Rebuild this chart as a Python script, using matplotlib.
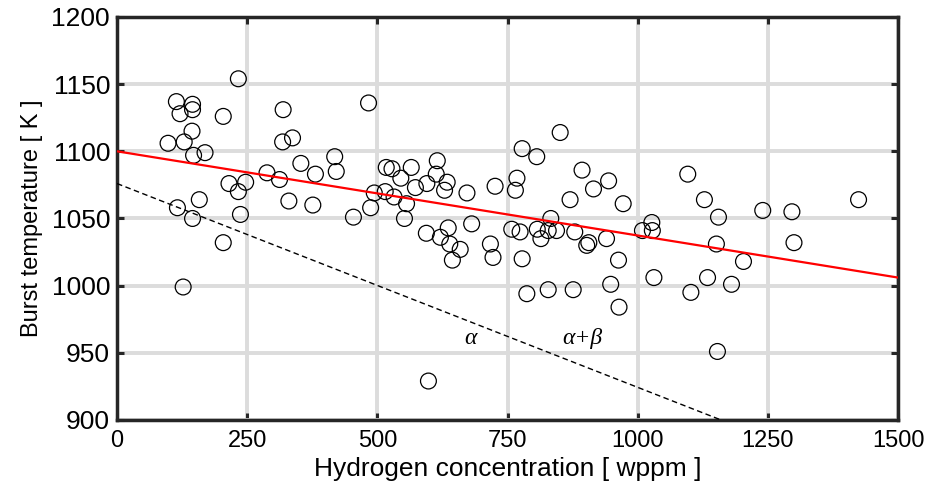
#!/usr/bin/env python3
"""Burst temperature vs hydrogen concentration scatter with fit and phase boundary."""

import matplotlib
matplotlib.use('Agg')
import matplotlib.pyplot as plt

# measured points (wppm, K)
h_conc = [233, 114, 145, 145, 121, 204, 319, 144, 98, 129, 318, 337, 147, 169,
          353, 418, 421, 288, 381, 312, 215, 247, 233, 330, 376, 158, 116, 145,
          237, 454, 204, 127, 483, 851, 778, 806, 893, 915, 615, 613, 565, 517,
          528, 545, 573, 595, 634, 629, 672, 726, 768, 765, 870, 494, 515, 532,
          556, 487, 552, 681, 833, 594, 636, 621, 639, 659, 644, 717, 722, 758,
          774, 807, 814, 828, 844, 879, 906, 902, 778, 787, 828, 876, 598, 944,
          972, 1027, 1009, 1028, 940, 963, 948, 964, 1031, 1096, 1128, 1155,
          1240, 1296, 1424, 1151, 1203, 1300, 1134, 1180, 1102, 1153]
t_burst = [1154, 1137, 1135, 1131, 1128, 1126, 1131, 1115, 1106, 1107, 1107, 1110,
           1097, 1099, 1091, 1096, 1085, 1084, 1083, 1079, 1076, 1077, 1070, 1063,
           1060, 1064, 1058, 1050, 1053, 1051, 1032, 999, 1136, 1114, 1102, 1096,
           1086, 1072, 1093, 1083, 1088, 1088, 1087, 1080, 1073, 1076, 1077, 1071,
           1069, 1074, 1080, 1071, 1064, 1069, 1070, 1066, 1061, 1058, 1050, 1046,
           1050, 1039, 1043, 1036, 1031, 1027, 1019, 1031, 1021, 1042, 1040, 1042,
           1035, 1041, 1041, 1040, 1032, 1030, 1020, 994, 997, 997, 929, 1078,
           1061, 1047, 1041, 1041, 1035, 1019, 1001, 984, 1006, 1083, 1064, 1051,
           1056, 1055, 1064, 1031, 1018, 1032, 1006, 1001, 995, 951]

# linear fit (red) and alpha / alpha+beta boundary (dashed)
fit_x = [0, 1500]
fit_y = [1100, 1006]
bound_x = [0, 1160]
bound_y = [1076, 900]

x_ticks = [0, 250, 500, 750, 1000, 1250, 1500]
y_ticks = [900, 950, 1000, 1050, 1100, 1150, 1200]

plt.rcParams['font.family'] = ['Liberation Sans', 'DejaVu Sans']

fig = plt.figure(figsize=(9.31, 5.04), dpi=100)
ax = fig.add_axes([0.1257, 0.1667, 0.839, 0.7996])

ax.grid(True, color='#dcdcdc', linewidth=2.8)
ax.set_axisbelow(True)

ax.scatter(h_conc, t_burst, s=130, facecolors='none', edgecolors='black',
           linewidths=0.9, zorder=3)
ax.plot(fit_x, fit_y, color='#ff0000', linewidth=1.6, zorder=4)
ax.plot(bound_x, bound_y, color='black', linestyle=(0, (4, 2.5)), linewidth=1.0, zorder=4)

serif = ['Liberation Serif', 'DejaVu Serif']
ax.text(679, 961, 'α', family=serif, style='italic', fontsize=17, ha='center', va='center')
ax.text(894, 961, 'α+β', family=serif, style='italic', fontsize=17, ha='center', va='center')

ax.set_xlim(0, 1500)
ax.set_ylim(900, 1200)
ax.set_xticks(x_ticks)
ax.set_yticks(y_ticks)

for sp in ax.spines.values():
    sp.set_linewidth(2.5)
    sp.set_color('#262626')
ax.tick_params(direction='in', length=5, width=2.2, color='#262626',
               top=True, right=True, pad=6)
ax.tick_params(axis='y', labelsize=19, pad=5)
ax.tick_params(axis='x', labelsize=17, pad=7)

ax.set_xlabel('Hydrogen concentration [ wppm ]', fontsize=19, labelpad=4)
ax.set_ylabel('Burst temperature [ K ]', fontsize=17, labelpad=6)

fig.savefig('out.png', dpi=100)
